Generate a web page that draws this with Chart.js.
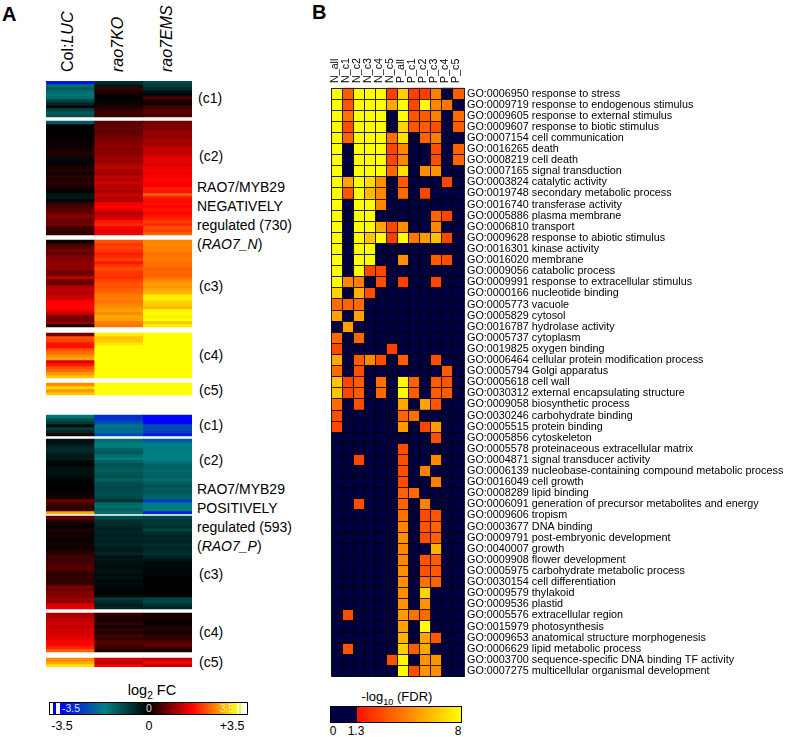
<!DOCTYPE html>
<html>
<head>
<meta charset="utf-8">
<script src="https://cdn.jsdelivr.net/npm/chart.js@4"></script>
<style>
  html, body { margin: 0; padding: 0; background: #fff; }
  body { position: relative; width: 797px; height: 737px; overflow: hidden; font-family: "Liberation Sans", Arial, sans-serif; color: #000; }
  .abs { position: absolute; white-space: nowrap; line-height: 1; }
  .panel { font-size: 20px; font-weight: bold; }
  .head { font-size: 16px; transform-origin: left top; transform: rotate(-90deg); }
  .lab { font-size: 14px; }
  .leg { font-size: 12.5px; transform: translateX(-50%); }
  sub { font-size: 70%; line-height: 0; }
  #fcBar { left: 49px; top: 702px; width: 197px; height: 11px; border: 1px solid #000;
    background: linear-gradient(to right, #fff 0, #fff 1.5%, #0000ff 1.5%, #0000ff 3%, #fff 3%, #fff 5%, #0000ff 5%, #008080 28%, #000 50%, #ff0000 72%, #ffff00 95%, #fff 95%, #fff 96%, #ffff00 96%, #ffff00 97%, #fff 97%); }
  #fdrBar { left: 330px; top: 706px; width: 130px; height: 15px; border: 1px solid #000;
    background: linear-gradient(to right, #000040 0, #000040 20%, #ff1000 20%, #ffff00 100%); }
</style>
</head>
<body>
<div class="abs panel" style="left:2px;top:4px">A</div>
<div class="abs panel" style="left:312px;top:2px">B</div>

<div class="abs head" style="left:60px;top:72px">Col:<i>LUC</i></div>
<div class="abs head" style="left:110px;top:72px"><i>rao7KO</i></div>
<div class="abs head" style="left:159px;top:72px"><i>rao7EMS</i></div>

<canvas id="foldChart" class="abs" style="left:46px;top:81px"></canvas>
<canvas id="goChart" class="abs" style="left:319px;top:50px"></canvas>

<div class="abs lab" style="left:198px;top:91px">(c1)</div>
<div class="abs lab" style="left:199px;top:149px">(c2)</div>
<div class="abs lab" style="left:197px;top:180px">RAO7/MYB29</div>
<div class="abs lab" style="left:197px;top:199px">NEGATIVELY</div>
<div class="abs lab" style="left:197px;top:218px">regulated (730)</div>
<div class="abs lab" style="left:197px;top:237px">(<i>RAO7_N</i>)</div>
<div class="abs lab" style="left:199px;top:279px">(c3)</div>
<div class="abs lab" style="left:199px;top:348px">(c4)</div>
<div class="abs lab" style="left:199px;top:383px">(c5)</div>
<div class="abs lab" style="left:199px;top:418px">(c1)</div>
<div class="abs lab" style="left:199px;top:453px">(c2)</div>
<div class="abs lab" style="left:197px;top:482px">RAO7/MYB29</div>
<div class="abs lab" style="left:197px;top:501px">POSITIVELY</div>
<div class="abs lab" style="left:197px;top:520px">regulated (593)</div>
<div class="abs lab" style="left:197px;top:539px">(<i>RAO7_P</i>)</div>
<div class="abs lab" style="left:199px;top:567px">(c3)</div>
<div class="abs lab" style="left:199px;top:625px">(c4)</div>
<div class="abs lab" style="left:199px;top:655px">(c5)</div>

<div class="abs leg" style="left:152px;top:683px;font-size:14.5px">log<sub>2</sub> FC</div>
<div id="fcBar" class="abs"></div>
<div class="abs leg" style="left:71px;top:703px;font-size:10.5px;color:#dde">-3.5</div>
<div class="abs leg" style="left:149px;top:703px;font-size:10.5px;color:#ddd">0</div>
<div class="abs leg" style="left:227px;top:703px;font-size:10.5px;color:#ffe9a0">3.5</div>
<div class="abs leg" style="left:62px;top:720px">-3.5</div>
<div class="abs leg" style="left:149px;top:720px">0</div>
<div class="abs leg" style="left:232px;top:720px">+3.5</div>

<div class="abs leg" style="left:397px;top:690px;font-size:13px">-log<sub>10</sub> (FDR)</div>
<div id="fdrBar" class="abs"></div>
<div class="abs leg" style="left:333px;top:725px;font-size:12px">0</div>
<div class="abs leg" style="left:356px;top:725px;font-size:12px">1.3</div>
<div class="abs leg" style="left:458px;top:725px;font-size:12px">8</div>

<script>
// panel A: log2 FC, top to bottom, one list per cluster and sample
const samples = ['Col:LUC', 'rao7KO', 'rao7EMS'];

const n1Luc = [-3.2,-1.5,-1.2,-1.5,-1.6,-1.5,-0.9,-0.5,-0.1,-0.9,-1.2,-1.1];
const n1Ko = [-0.6,-0.3,0.4,0.2,0.1,0,0,0.1,0.2,0.3,0.4,0.4];
const n1Ems = [-1.0,-0.8,-0.6,-0.2,-0.1,0.5,0.2,0.1,0.4,0.6,0.6,0.5];

const n2Luc = [-1.2,0,0,0.05,0,0,0.05,0.1,0.1,0.15,0.25,0.2,-0.1,-0.1,0.1,0.2,0.2,0.1,0.3,0.2,0.3,0.2,0.1,-0.05,-0.3,-0.3,-0.1,0.4,0.5,0.6,0.7,0.9,0.8,0.7,0.8,0.4,0.4,0.35];
const n2Ko = [0.6,0.7,0.7,0.65,0.7,0.8,0.9,0.9,1,0.9,0.95,1,1.1,1,1.2,1.3,1.15,1.1,1.35,1.2,1.4,1.25,1.3,1.15,1.4,1.3,1.2,1.7,1.75,1.6,1.3,1.35,1.5,1.9,2.0,1.7,1.6,1.65];
const n2Ems = [0.8,0.9,0.85,1,1.05,1,1.15,1.1,1.25,1.35,1.3,1.45,1.6,1.55,1.5,1.65,1.7,1.65,1.7,1.8,1.75,1.7,1.95,1.85,2.4,1.9,1.8,1.85,1.75,1.9,1.8,1.85,2.0,2.15,2.05,2.3,2.2,2.4];

const n3Luc = [0.1,0.5,0.6,0.8,0.7,0.9,0.9,1.0,1.0,1.0,0.75,0.8,1.3,0.7,0.75,1.2,1.3,1.25,1.35,1.4,1.7,1.75,1.8,1.6,1.3,0.8,0.8,1.0,0.15];
const n3Ko = [2.3,2.1,2.2,2.1,1.95,2.0,2.2,1.9,2.1,2.3,2.15,2.1,2.05,2.2,2.35,2.3,2.4,2.45,2.6,2.6,2.55,2.65,2.75,2.85,2.7,2.9,2.85,2.6,2.55];
const n3Ems = [2.65,2.7,2.6,2.65,2.5,2.55,2.6,2.5,2.5,2.4,2.45,2.4,2.5,2.7,2.85,2.75,2.9,2.95,3.35,3.4,3.2,3.15,3.0,3.45,3.5,3.4,3.5,3.1,3.4];

const n4Luc = [0.8,2.3,2.2,1.9,1.85,2.3,2.5,2.7,2.9,1.5,1.9,2.3,2.5,2.8,3.1];
const n4Ko = [3.4,3.1,3.1,3.3,3.5,3.5,3.5,3.5,3.5,3.5,3.5,3.5,3.5,3.5,3.5];
const n4Ems = [3.5,3.5,3.5,3.5,3.5,3.5,3.5,3.5,3.5,3.5,3.5,3.5,3.5,3.5,3.5];

const n5Luc = [2.7,3.2,2.8,3.1];
const n5Ko = [3.5,3.5,3.5,3.5];
const n5Ems = [3.5,3.5,3.5,3.5];

const p1Luc = [-1.6,-1.1,-0.8,-0.1,-0.8,-0.5,0.2];
const p1Ko = [-2.9,-2.8,-2.4,-1.9,-2,-2,-2.5];
const p1Ems = [-3.4,-3.5,-3.5,-2.5,-2.5,-2.6,-3.1];

const p2Luc = [-0.2,-0.3,-0.5,-0.6,-0.5,-0.3,-0.4,-0.1,-0.05,-0.2,-0.25,-0.2,-0.15,-0.05,0,0,0,-0.05,0.1,0.15,0.7,0.5,0.3,0.35,2.9];
const p2Ko = [-1.5,-1.7,-1.7,-1.3,-1.2,-1.5,-1.7,-1.3,-1.1,-1.2,-1.25,-1.15,-1.1,-1.3,-1.1,-1.0,-1.0,-1.05,-1.1,-1.0,-0.7,-1.4,-1.5,-1.3,-1.5];
const p2Ems = [-2.3,-1.8,-1.75,-1.7,-1.7,-1.75,-1.8,-1.6,-1.4,-1.3,-1.45,-1.35,-1.3,-1.5,-1.3,-1.1,-1.2,-1.2,-1.3,-1.4,-2.7,-1.9,-1.85,-1.8,-3.0];

const p3Luc = [0.6,0.3,0.1,0.05,0.2,0.1,0.15,0.05,0.1,0.15,0.1,0.2,0.3,0.45,0.4,0.5,0.55,0.6,0.4,0.3,0.35,0.3,0.35,0.8,0.75,0.9,0.85,1.1,1.0,1.5,1.6];
const p3Ko = [-1.0,-0.7,-0.6,-0.5,-0.45,-0.5,-0.4,-0.5,-0.45,-0.55,-0.4,-0.35,-0.5,-0.25,-0.3,-0.2,-0.15,-0.2,-0.25,-0.15,-0.25,-0.1,-0.15,-0.1,-0.05,-0.05,-0.1,-0.8,-0.6,-0.4,-0.5];
const p3Ems = [-0.9,-0.7,-0.8,-0.65,-0.9,-0.6,-0.5,-0.55,-0.45,-0.6,-0.5,-0.55,-0.65,-0.5,-0.3,-0.1,-0.15,-0.05,-0.1,-0.05,0,0,0.05,0,-0.05,0,-0.05,-0.9,-1.0,-0.7,-0.5];

const p4Luc = [1.2,1.25,1.3,1.4,1.3,1.45,1.45,1.5,1.6,1.75,1.8,2.0,2.4];
const p4Ko = [0.3,0.2,0.15,0.35,0.1,0.4,0.2,0.45,0.3,0.6,0.5,0.4,0.2];
const p4Ems = [0.15,0.2,0.1,0.05,0.2,0.25,0.1,0.3,0.35,0.5,0.7,0.4,0.2];

const p5Luc = [2.7,2.9,3.3];
const p5Ko = [1.5,1.3,1.7];
const p5Ems = [1.4,1.7,1.3];

// panel B
const goColumns = ['N_all','N_c1','N_c2','N_c3','N_c4','N_c5','P_all','P_c1','P_c2','P_c3','P_c4','P_c5'];
const goTerms = [
  'GO:0006950 response to stress',
  'GO:0009719 response to endogenous stimulus',
  'GO:0009605 response to external stimulus',
  'GO:0009607 response to biotic stimulus',
  'GO:0007154 cell communication',
  'GO:0016265 death',
  'GO:0008219 cell death',
  'GO:0007165 signal transduction',
  'GO:0003824 catalytic activity',
  'GO:0019748 secondary metabolic process',
  'GO:0016740 transferase activity',
  'GO:0005886 plasma membrane',
  'GO:0006810 transport',
  'GO:0009628 response to abiotic stimulus',
  'GO:0016301 kinase activity',
  'GO:0016020 membrane',
  'GO:0009056 catabolic process',
  'GO:0009991 response to extracellular stimulus',
  'GO:0000166 nucleotide binding',
  'GO:0005773 vacuole',
  'GO:0005829 cytosol',
  'GO:0016787 hydrolase activity',
  'GO:0005737 cytoplasm',
  'GO:0019825 oxygen binding',
  'GO:0006464 cellular protein modification process',
  'GO:0005794 Golgi apparatus',
  'GO:0005618 cell wall',
  'GO:0030312 external encapsulating structure',
  'GO:0009058 biosynthetic process',
  'GO:0030246 carbohydrate binding',
  'GO:0005515 protein binding',
  'GO:0005856 cytoskeleton',
  'GO:0005578 proteinaceous extracellular matrix',
  'GO:0004871 signal transducer activity',
  'GO:0006139 nucleobase-containing compound metabolic process',
  'GO:0016049 cell growth',
  'GO:0008289 lipid binding',
  'GO:0006091 generation of precursor metabolites and energy',
  'GO:0009606 tropism',
  'GO:0003677 DNA binding',
  'GO:0009791 post-embryonic development',
  'GO:0040007 growth',
  'GO:0009908 flower development',
  'GO:0005975 carbohydrate metabolic process',
  'GO:0030154 cell differentiation',
  'GO:0009579 thylakoid',
  'GO:0009536 plastid',
  'GO:0005576 extracellular region',
  'GO:0015979 photosynthesis',
  'GO:0009653 anatomical structure morphogenesis',
  'GO:0006629 lipid metabolic process',
  'GO:0003700 sequence-specific DNA binding TF activity',
  'GO:0007275 multicellular organismal development'
];
// -log10(FDR), one row per GO term, 0 where not significant
const fdrRows = [
  [8,3.5,8,8,8,2.6,6.6,2.6,2.6,4.4,0,3.5],
  [8,3.2,8,8,8,5.5,8,2.8,8,4.6,4.2,0],
  [8,4,8,8,8,0,8,3.2,3.4,4.4,0,3.8],
  [8,3,8,8,8,0,6.8,3.2,3.4,3,0,3.4],
  [8,3.6,8,8,8,4,7.2,0,3.6,4.4,0,0],
  [8,0,8,8,8,2.8,4.6,0,0,3,0,3.6],
  [8,0,8,8,8,2.8,4.6,0,0,3,0,3.6],
  [8,0,8,8,8,3.8,7.2,0,4.8,5,0,0],
  [8,5.4,8,7,4.8,0,3.4,0,0,0,2.8,0],
  [8,3.2,8,6,4.6,0,3.8,0,2.8,0,0,0],
  [8,0,8,8,4.6,0,0,0,0,0,0,0],
  [8,0,8,8,0,0,0,0,0,3.6,2.8,0],
  [8,0,8,8,5.5,2.8,4.8,0,0,4.6,0,0],
  [8,0,8,6.4,8,2.6,8,4.2,5.2,6.2,2.8,0],
  [8,0,8,8,0,0,0,0,0,0,0,0],
  [8,0,8,8,0,0,4.8,0,0,3.4,3,0],
  [8,0,8,2.8,2.8,0,0,0,0,0,0,0],
  [8,4.6,4.4,0,3,0,2.6,0,0,2.8,0,0],
  [6.8,0,5.8,3,0,0,0,0,0,0,0,0],
  [3.8,3.6,3.8,0,0,0,0,0,0,0,0,0],
  [5.4,0,5.4,0,0,0,0,0,0,0,0,0],
  [0,5.4,0,0,0,0,0,0,0,0,0,0],
  [3.8,0,3.6,0,0,0,0,0,0,0,0,0],
  [2.8,0,0,0,0,2.6,0,0,0,0,0,0],
  [5.6,0,3.4,4.6,3,0,3.4,0,0,3,0,0],
  [3.8,0,3,0,0,0,0,0,0,0,3.4,0],
  [6.4,2.8,3.4,0,4,0,7.8,3.6,0,3.4,3.2,0],
  [6.4,2.8,3.4,0,3.8,0,8,3.4,0,3.4,3.4,0],
  [3.8,0,3,0,0,0,5.6,0,5.4,3.2,0,0],
  [3,0,0,0,0,0,3.6,4,0,0,0,0],
  [2.8,0,0,0,0,0,5.2,0,2.8,5.2,0,0],
  [0,0,0,0,0,0,0,0,0,3,0,0],
  [0,0,0,0,0,0,3,0,0,0,0,0],
  [0,0,2.8,0,0,0,3,0,0,4.6,0,0],
  [0,0,0,0,0,0,3,0,4.4,0,0,0],
  [0,0,0,0,0,0,3,0,0,4.4,0,0],
  [0,0,0,0,0,0,3.6,3.8,0,0,0,0],
  [0,0,3,0,0,0,3.6,0,4.4,0,0,0],
  [0,0,0,0,0,0,4,0,2.9,3.2,0,0],
  [0,0,0,0,0,0,4.6,0,3.2,3.6,0,0],
  [0,0,0,0,0,0,4.8,0,3,3.6,0,0],
  [0,0,0,0,0,0,4.6,0,0,5.8,0,0],
  [0,0,0,0,0,0,4.6,0,3.2,3.4,0,0],
  [0,0,0,0,0,0,4.8,0,3.1,3.3,0,0],
  [0,0,0,0,0,0,4.8,0,4,3.6,0,0],
  [0,0,0,0,0,0,4.8,0,6.8,0,0,0],
  [0,0,0,0,0,0,4.9,0,5,0,0,0],
  [0,3,0,0,0,0,5.2,4,3.8,0,0,0],
  [0,0,0,0,0,0,5.4,0,8,0,0,0],
  [0,0,0,0,0,0,5.8,0,5.4,3.2,0,0],
  [0,3.2,0,0,0,0,6.6,3.5,5.6,0,0,0],
  [0,0,0,0,0,3.1,7.8,0,5,5,0,0],
  [0,0,0,0,0,0,8,3,5,4.8,0,0]
];

const clusters = [
  [n1Luc, n1Ko, n1Ems], [n2Luc, n2Ko, n2Ems], [n3Luc, n3Ko, n3Ems], [n4Luc, n4Ko, n4Ems], [n5Luc, n5Ko, n5Ems],
  [p1Luc, p1Ko, p1Ems], [p2Luc, p2Ko, p2Ems], [p3Luc, p3Ko, p3Ems], [p4Luc, p4Ko, p4Ems], [p5Luc, p5Ko, p5Ems]
];

const ROW_SPAN = 3;
const CLUSTER_GAPS = [4, 5, 6, 5, 20, 3, 2, 4, 6];

function mix(a, b, t) {
  return 'rgb(' + a.map((c, i) => Math.round(c + (b[i] - c) * t)).join(',') + ')';
}

// blue - teal - black - red - yellow
function fcColor(v) {
  const x = Math.max(-3.5, Math.min(3.5, v));
  if (x < -1.75) return mix([0, 0, 255], [0, 128, 128], (x + 3.5) / 1.75);
  if (x < 0) return mix([0, 128, 128], [0, 0, 0], (x + 1.75) / 1.75);
  if (x < 1.75) return mix([0, 0, 0], [255, 0, 0], x / 1.75);
  return mix([255, 0, 0], [255, 255, 0], (x - 1.75) / 1.75);
}

function fdrColor(v) {
  if (v < 1.3) return '#000040';
  return mix([255, 16, 0], [255, 255, 0], (v - 1.3) / 6.7);
}

// stacked columns, every row of a cluster is one dataset
const foldDatasets = [];
clusters.forEach((cluster, c) => {
  cluster[0].forEach((_, r) => {
    foldDatasets.push({
      data: samples.map(() => ROW_SPAN),
      backgroundColor: cluster.map(col => fcColor(col[r])),
      borderWidth: 0, barPercentage: 1, categoryPercentage: 1
    });
  });
  if (c < CLUSTER_GAPS.length) {
    foldDatasets.push({
      data: samples.map(() => CLUSTER_GAPS[c]),
      backgroundColor: 'rgba(0,0,0,0)',
      borderWidth: 0, barPercentage: 1, categoryPercentage: 1
    });
  }
});
const foldTotal = foldDatasets.reduce((sum, d) => sum + d.data[0], 0);

Chart.defaults.font.family = '"Liberation Sans", Arial, sans-serif';
Chart.defaults.animation = false;

const foldCanvas = document.getElementById('foldChart');
foldCanvas.width = 146;
foldCanvas.height = foldTotal;
new Chart(foldCanvas, {
  type: 'bar',
  data: { labels: samples, datasets: foldDatasets },
  options: {
    responsive: false,
    layout: { padding: 0 },
    plugins: { legend: { display: false }, tooltip: { enabled: false } },
    scales: {
      x: { stacked: true, display: false },
      y: { stacked: true, display: false, reverse: true, min: 0, max: foldTotal }
    }
  }
});

const goPoints = [];
fdrRows.forEach((row, r) => {
  row.forEach((v, c) => goPoints.push({ x: goColumns[c], y: goTerms[r], v: v }));
});

const goCanvas = document.getElementById('goChart');
goCanvas.width = 478;
goCanvas.height = 636;
new Chart(goCanvas, {
  type: 'scatter',
  data: {
    datasets: [{
      data: goPoints,
      pointStyle: 'rect',
      pointRadius: 8.1,
      pointBorderWidth: 0,
      pointBackgroundColor: ctx => fdrColor(ctx.raw.v)
    }]
  },
  options: {
    responsive: false,
    layout: { padding: 0 },
    plugins: { legend: { display: false }, tooltip: { enabled: false } },
    scales: {
      x: {
        type: 'category', position: 'top', labels: goColumns, offset: true,
        afterFit: s => { s.height = 38; },
        grid: { offset: true, color: 'rgba(0,0,0,0.85)', z: 1, drawTicks: false },
        border: { color: '#222', z: 2 },
        ticks: { autoSkip: false, minRotation: 90, maxRotation: 90, padding: 5, labelOffset: 10.5, color: '#000', font: { size: 10.7 } }
      },
      y: {
        type: 'category', position: 'right', labels: goTerms, offset: true,
        afterFit: s => { s.width = 333; },
        grid: { offset: true, color: 'rgba(0,0,0,0.85)', z: 1, drawTicks: false },
        border: { color: '#222', z: 2 },
        ticks: { autoSkip: false, padding: 3, color: '#000', font: { size: 10.8 } }
      }
    }
  }
});
</script>
</body>
</html>
